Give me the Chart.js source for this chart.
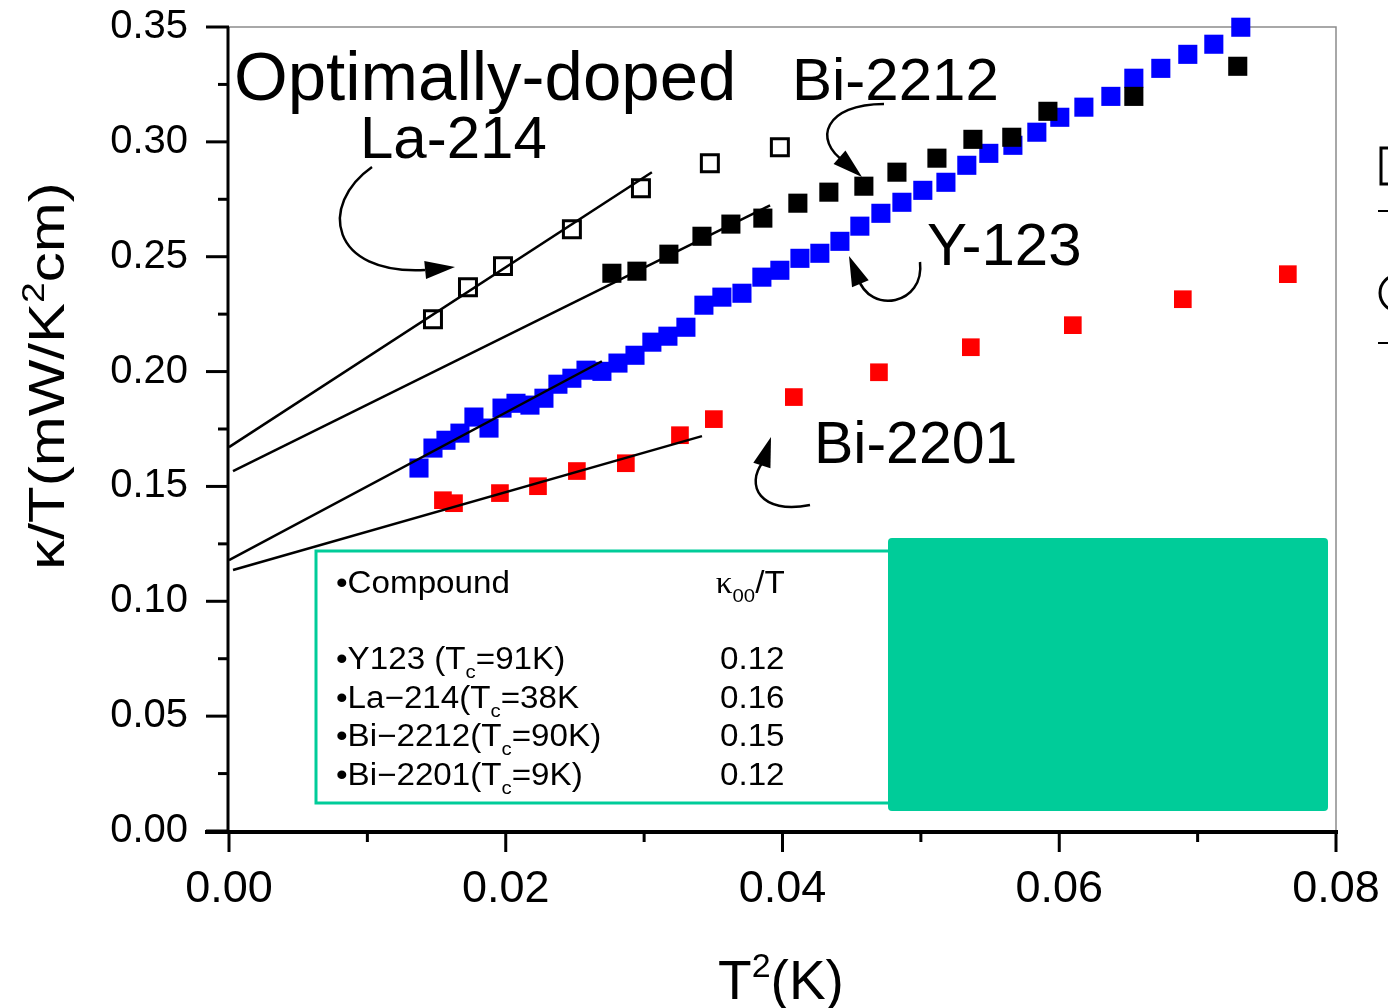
<!DOCTYPE html>
<html>
<head>
<meta charset="utf-8">
<script src="https://cdn.jsdelivr.net/npm/chart.js@4.4.1/dist/chart.umd.min.js"></script>
<style>
  html, body { margin: 0; padding: 0; background: #fff; }
</style>
</head>
<body>
<canvas id="kappaChart" width="1388" height="1008"></canvas>
<script>
// x = T^2 (K), y = kappa/T (mW/K^2cm)
const y123X = [0.01373, 0.01474, 0.01568, 0.01669, 0.0177, 0.01879, 0.01973, 0.02074, 0.02175, 0.02276,
               0.02377, 0.02478, 0.0258, 0.02695, 0.02811, 0.02934, 0.03056, 0.03172, 0.03302, 0.03432,
               0.03562, 0.03707, 0.03851, 0.03981, 0.04126, 0.0427, 0.04415, 0.04559, 0.04711, 0.04863,
               0.05014, 0.05181, 0.05332, 0.05491, 0.05665, 0.05838, 0.06004, 0.06178, 0.06373, 0.06539,
               0.06734, 0.06929, 0.07117, 0.07312];
const y123Y = [0.158, 0.1667, 0.1701, 0.1732, 0.1802, 0.1754, 0.1841, 0.1862, 0.1854, 0.1884,
               0.1945, 0.1971, 0.2006, 0.2001, 0.2037, 0.2071, 0.2128, 0.2154, 0.2193, 0.2289,
               0.2324, 0.2341, 0.2411, 0.2441, 0.2493, 0.2515, 0.2567, 0.2633, 0.2689, 0.2737,
               0.2789, 0.2824, 0.2898, 0.295, 0.2985, 0.3042, 0.3107, 0.3151, 0.3198, 0.3277,
               0.332, 0.3381, 0.3425, 0.3499];

const bi2212X = [0.02767, 0.02948, 0.03179, 0.03418, 0.03627, 0.03858, 0.04111, 0.04335, 0.04588, 0.04827,
                 0.05116, 0.05376, 0.05657, 0.05918, 0.06539, 0.0729];
const bi2212Y = [0.2428, 0.2437, 0.2511, 0.2589, 0.2642, 0.2668, 0.2733, 0.2781, 0.2807, 0.2868,
                 0.2929, 0.3011, 0.302, 0.3133, 0.3198, 0.3329];

const la214X = [0.01474, 0.01727, 0.0198, 0.02478, 0.02977, 0.03475, 0.03981];
const la214Y = [0.2228, 0.2367, 0.2459, 0.262, 0.2798, 0.2907, 0.2977];

const bi2201X = [0.01546, 0.01626, 0.01958, 0.02233, 0.02514, 0.02868, 0.03259, 0.03504, 0.04082, 0.04697,
                 0.05361, 0.06098, 0.06893, 0.07652];
const bi2201Y = [0.144, 0.1427, 0.1471, 0.1501, 0.1567, 0.1601, 0.1723, 0.1793, 0.1889, 0.1997,
                 0.2106, 0.2202, 0.2315, 0.2424];

// 저온 외삽 직선 (fit lines)
const fitLaX = [0.0, 0.03056];      const fitLaY = [0.1671, 0.2868];
const fitBi2212X = [0.00029, 0.0391]; const fitBi2212Y = [0.1567, 0.2724];
const fitY123X = [0.0, 0.02695];    const fitY123Y = [0.1179, 0.2045];
const fitBi2201X = [0.00029, 0.03418]; const fitBi2201Y = [0.1136, 0.1719];

// table
const compounds = ['Y123 (T', 'La\u2212214(T', 'Bi\u22122212(T', 'Bi\u22122201(T'];
const tcLabels = ['=91K)', '=38K', '=90K)', '=9K)'];
const kappa00 = ['0.12', '0.16', '0.15', '0.12'];

// axes
const xTicks = [0, 0.02, 0.04, 0.06, 0.08];
const xTickLabels = ['0.00', '0.02', '0.04', '0.06', '0.08'];
const xMinor = [0.01, 0.03, 0.05, 0.07];
const yTicks = [0, 0.05, 0.10, 0.15, 0.20, 0.25, 0.30, 0.35];
const yTickLabels = ['0.00', '0.05', '0.10', '0.15', '0.20', '0.25', '0.30', '0.35'];
const yMinor = [0.025, 0.075, 0.125, 0.175, 0.225, 0.275, 0.325];

const SANS = '"Liberation Sans", Arial, sans-serif';
const TEAL = '#00CC99';

function pts(xs, ys) {
    return xs.map((x, i) => ({ x: x, y: ys[i] }));
}

function fitLine(xs, ys) {
    return { data: pts(xs, ys), showLine: true, pointRadius: 0, borderColor: '#000', borderWidth: 2.5, clip: false };
}

function line(ctx, x1, y1, x2, y2) {
    ctx.beginPath();
    ctx.moveTo(x1, y1);
    ctx.lineTo(x2, y2);
    ctx.stroke();
}

// 곡선 화살표
function curvedArrow(ctx, p0, c1, c2, p1, tip) {
    ctx.beginPath();
    ctx.moveTo(p0[0], p0[1]);
    ctx.bezierCurveTo(c1[0], c1[1], c2[0], c2[1], p1[0], p1[1]);
    ctx.stroke();
    const ang = Math.atan2(tip[1] - p1[1], tip[0] - p1[0]);
    const len = 30, half = 9;
    const bx = tip[0] - len * Math.cos(ang), by = tip[1] - len * Math.sin(ang);
    ctx.beginPath();
    ctx.moveTo(tip[0], tip[1]);
    ctx.lineTo(bx + half * Math.sin(ang), by - half * Math.cos(ang));
    ctx.lineTo(bx - half * Math.sin(ang), by + half * Math.cos(ang));
    ctx.closePath();
    ctx.fill();
}

// sub/sup 가 섞인 텍스트
function richText(ctx, x, y, parts, size, family) {
    let cx = x;
    parts.forEach(p => {
        const s = p.sub || p.sup ? Math.round(size * 0.62) : size;
        ctx.font = s + 'px ' + (p.family || family);
        const dy = p.sub ? size * 0.3 : (p.sup ? -size * 0.4 : 0);
        ctx.fillText(p.t, cx, y + dy);
        cx += ctx.measureText(p.t).width;
    });
    return cx - x;
}

function richWidth(ctx, parts, size, family) {
    let w = 0;
    parts.forEach(p => {
        const s = p.sub || p.sup ? Math.round(size * 0.62) : size;
        ctx.font = s + 'px ' + (p.family || family);
        w += ctx.measureText(p.t).width;
    });
    return w;
}

const decor = {
    id: 'decor',
    beforeDatasetsDraw(chart) {
        const { ctx, chartArea: a, scales: { x, y } } = chart;
        ctx.save();
        // top / right frame
        ctx.strokeStyle = '#8c8c8c';
        ctx.lineWidth = 1.5;
        ctx.beginPath();
        ctx.moveTo(a.left, a.top);
        ctx.lineTo(a.right, a.top);
        ctx.lineTo(a.right, a.bottom);
        ctx.stroke();

        // tick marks
        ctx.strokeStyle = '#000';
        ctx.lineWidth = 3;
        yTicks.forEach(v => { const py = y.getPixelForValue(v); line(ctx, a.left - 23, py, a.left, py); });
        yMinor.forEach(v => { const py = y.getPixelForValue(v); line(ctx, a.left - 11, py, a.left, py); });
        xTicks.forEach(v => { const px = x.getPixelForValue(v); line(ctx, px, a.bottom, px, a.bottom + 21); });
        xMinor.forEach(v => { const px = x.getPixelForValue(v); line(ctx, px, a.bottom, px, a.bottom + 11); });

        // axis lines
        line(ctx, a.left - 1, a.top, a.left - 1, a.bottom + 2);
        ctx.lineWidth = 4;
        line(ctx, a.left - 24, a.bottom + 1, a.right + 2, a.bottom + 1);
        ctx.restore();
    },
    afterDatasetsDraw(chart) {
        const { ctx } = chart;
        ctx.save();
        ctx.fillStyle = '#000';
        ctx.strokeStyle = '#000';
        ctx.textBaseline = 'alphabetic';
        ctx.textAlign = 'left';

        // labels
        ctx.font = '69px ' + SANS;
        ctx.fillText('Optimally-doped', 234, 100);
        ctx.font = '60px ' + SANS;
        ctx.fillText('La-214', 360, 158);
        ctx.fillText('Bi-2212', 792, 100);
        ctx.fillText('Y-123', 927, 265);
        ctx.font = '59px ' + SANS;
        ctx.fillText('Bi-2201', 814, 463);

        // arrows
        ctx.lineWidth = 2.5;
        curvedArrow(ctx, [372, 167], [318, 205], [330, 275], [425, 270], [455, 267]);
        curvedArrow(ctx, [884, 104], [825, 104], [812, 140], [845, 162], [862, 177]);
        curvedArrow(ctx, [920, 262], [925, 305], [870, 315], [858, 278], [849, 256]);
        curvedArrow(ctx, [810, 505], [760, 515], [745, 485], [763, 462], [771, 437]);

        // table box
        ctx.strokeStyle = TEAL;
        ctx.lineWidth = 3;
        ctx.strokeRect(316, 551, 574, 252);
        ctx.fillStyle = TEAL;
        ctx.beginPath();
        ctx.roundRect(888, 538, 440, 273, 4);
        ctx.fill();

        ctx.fillStyle = '#000';
        ctx.save();
        ctx.translate(336, 0);
        ctx.scale(1.07, 1);
        richText(ctx, 0, 593, [{ t: '\u2022Compound' }], 31, SANS);
        richText(ctx, 355, 593, [
            { t: '\u03ba', family: '"Liberation Serif", serif' },
            { t: '00', sub: true },
            { t: '/T' }
        ], 31, SANS);
        compounds.forEach((c, i) => {
            const by = 669 + i * 38.5;
            richText(ctx, 0, by, [{ t: '\u2022' + c }, { t: 'c', sub: true }, { t: tcLabels[i] }], 31, SANS);
            ctx.font = '31px ' + SANS;
            ctx.fillText(kappa00[i], limitX(), by);
        });
        ctx.restore();

        // legend fragments clipped at right edge
        ctx.strokeStyle = '#000';
        ctx.lineWidth = 3;
        ctx.strokeRect(1381, 148, 36, 36);
        ctx.beginPath();
        ctx.arc(1398, 293, 18, 0, Math.PI * 2);
        ctx.stroke();
        ctx.lineWidth = 2;
        line(ctx, 1378, 211, 1390, 211);
        line(ctx, 1378, 343, 1390, 343);

        // axis titles
        const xt = [{ t: 'T' }, { t: '2', sup: true }, { t: '(K)' }];
        const xw = richWidth(ctx, xt, 55, SANS);
        richText(ctx, 781 - xw / 2, 999, xt, 55, SANS);

        const yt = [{ t: '\u03ba/T(mW/K' }, { t: '2', sup: true }, { t: 'cm)' }];
        ctx.translate(64, 376);
        ctx.rotate(-Math.PI / 2);
        ctx.scale(1.2, 1);
        const yw = richWidth(ctx, yt, 50, SANS);
        richText(ctx, -yw / 2, 0, yt, 50, SANS);
        ctx.restore();
    }
};

// 값 열의 시작 위치 (표 안, 스케일 전 좌표)
function limitX() { return (720 - 336) / 1.07; }

const ctx = document.getElementById('kappaChart').getContext('2d');
const kappaChart = new Chart(ctx, {
    type: 'scatter',
    data: {
        datasets: [
            fitLine(fitLaX, fitLaY),
            fitLine(fitBi2212X, fitBi2212Y),
            fitLine(fitY123X, fitY123Y),
            fitLine(fitBi2201X, fitBi2201Y),
            {
                label: 'Bi-2212', data: pts(bi2212X, bi2212Y), pointStyle: 'rect', pointRadius: 13.5,
                backgroundColor: '#000', borderColor: '#000', borderWidth: 0, clip: false
            },
            {
                label: 'Y-123', data: pts(y123X, y123Y), pointStyle: 'rect', pointRadius: 13.5,
                backgroundColor: '#0000FF', borderColor: '#0000FF', borderWidth: 0, clip: false
            },
            {
                label: 'La-214', data: pts(la214X, la214Y), pointStyle: 'rect', pointRadius: 12,
                backgroundColor: 'rgba(255,255,255,0)', borderColor: '#000', borderWidth: 3, clip: false
            },
            {
                label: 'Bi-2201', data: pts(bi2201X, bi2201Y), pointStyle: 'rect', pointRadius: 12.5,
                backgroundColor: '#FF0000', borderColor: '#FF0000', borderWidth: 0, clip: false
            }
        ]
    },
    options: {
        responsive: false,
        animation: false,
        devicePixelRatio: 1,
        layout: { padding: { top: 27, right: 52, left: 0, bottom: 0 } },
        plugins: {
            legend: { display: false },
            tooltip: { enabled: false }
        },
        scales: {
            x: {
                type: 'linear', min: 0, max: 0.08,
                afterFit(s) { s.height = 177; },
                afterBuildTicks(s) { s.ticks = xTicks.map(v => ({ value: v })); },
                ticks: {
                    callback: (v, i) => xTickLabels[i],
                    font: { family: SANS, size: 45 }, color: '#000', padding: 0,
                    maxRotation: 0, autoSkip: false
                },
                // 눈금 표시는 플러그인에서 그림, 여기서는 라벨 간격만
                grid: { display: true, drawOnChartArea: false, drawTicks: true, tickLength: 32, color: 'rgba(0,0,0,0)' },
                border: { display: false }
            },
            y: {
                type: 'linear', min: 0, max: 0.35,
                afterFit(s) { s.width = 229; },
                afterBuildTicks(s) { s.ticks = yTicks.map(v => ({ value: v })); },
                ticks: {
                    callback: (v, i) => yTickLabels[i],
                    font: { family: SANS, size: 40 }, color: '#000', padding: 0,
                    autoSkip: false
                },
                grid: { display: true, drawOnChartArea: false, drawTicks: true, tickLength: 41, color: 'rgba(0,0,0,0)' },
                border: { display: false }
            }
        }
    },
    plugins: [decor]
});
</script>
</body>
</html>
